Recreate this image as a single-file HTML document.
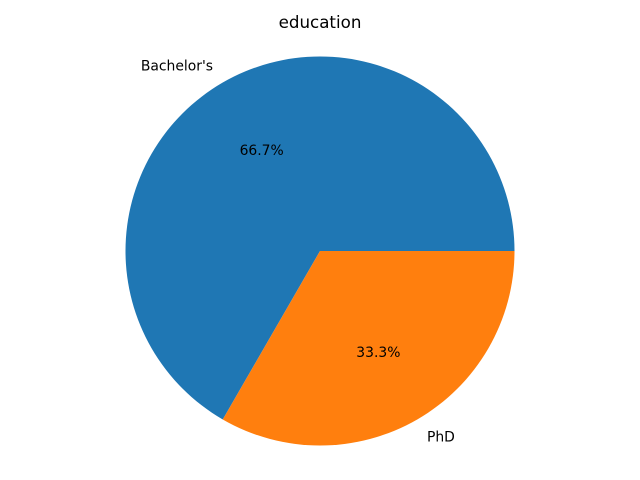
<!DOCTYPE html>
<html><head><meta charset="utf-8"><style>
html,body{margin:0;padding:0;background:#fff;}
svg{display:block;font-family:"DejaVu Sans","Liberation Sans",sans-serif;}
</style></head><body>
<svg id="chart" width="640" height="480" viewBox="0 0 640 480">
<rect width="640" height="480" fill="#fff"/>
<text x="320" y="28" text-anchor="middle" font-size="16.7" fill="#000">education</text>
<g id="slices"></g>
</svg>
<script>
const categories = ["Bachelor's", "PhD"];
const values = [2, 1];
const colors = ["#1f77b4", "#ff7f0e"];
const cx = 320, cy = 251, r = 194.5;
const svg = document.getElementById('chart');
const g = document.getElementById('slices');
const NS = 'http://www.w3.org/2000/svg';
const total = values.reduce((a,b)=>a+b,0);
let start = 0;
function pt(a, rr){ const rad = a*Math.PI/180; return [cx + rr*Math.cos(rad), cy - rr*Math.sin(rad)]; }
values.forEach((v,i)=>{
  const sweep = v/total*360, end = start+sweep;
  const [x1,y1] = pt(start,r), [x2,y2] = pt(end,r);
  const p = document.createElementNS(NS,'path');
  p.setAttribute('d',`M${cx},${cy} L${x1},${y1} A${r},${r} 0 ${sweep>180?1:0} 0 ${x2},${y2} Z`);
  p.setAttribute('fill',colors[i]);
  
  
  g.appendChild(p);
  const mid = start + sweep/2;
  const [lx,ly] = pt(mid, r*1.1);
  const t = document.createElementNS(NS,'text');
  t.setAttribute('x', lx); t.setAttribute('y', ly+5);
  t.setAttribute('font-size','13.9');
  t.setAttribute('text-anchor', Math.cos(mid*Math.PI/180) < 0 ? 'end' : 'start');
  t.textContent = categories[i];
  
  
  svg.appendChild(t);
  const [px,py] = pt(mid, r*0.6);
  const pc = document.createElementNS(NS,'text');
  pc.setAttribute('x', px); pc.setAttribute('y', py+5);
  pc.setAttribute('font-size','13.9');
  pc.setAttribute('text-anchor','middle');
  pc.textContent = (v/total*100).toFixed(1) + '%';
  
  
  svg.appendChild(pc);
  start = end;
});
</script>
</body></html>
